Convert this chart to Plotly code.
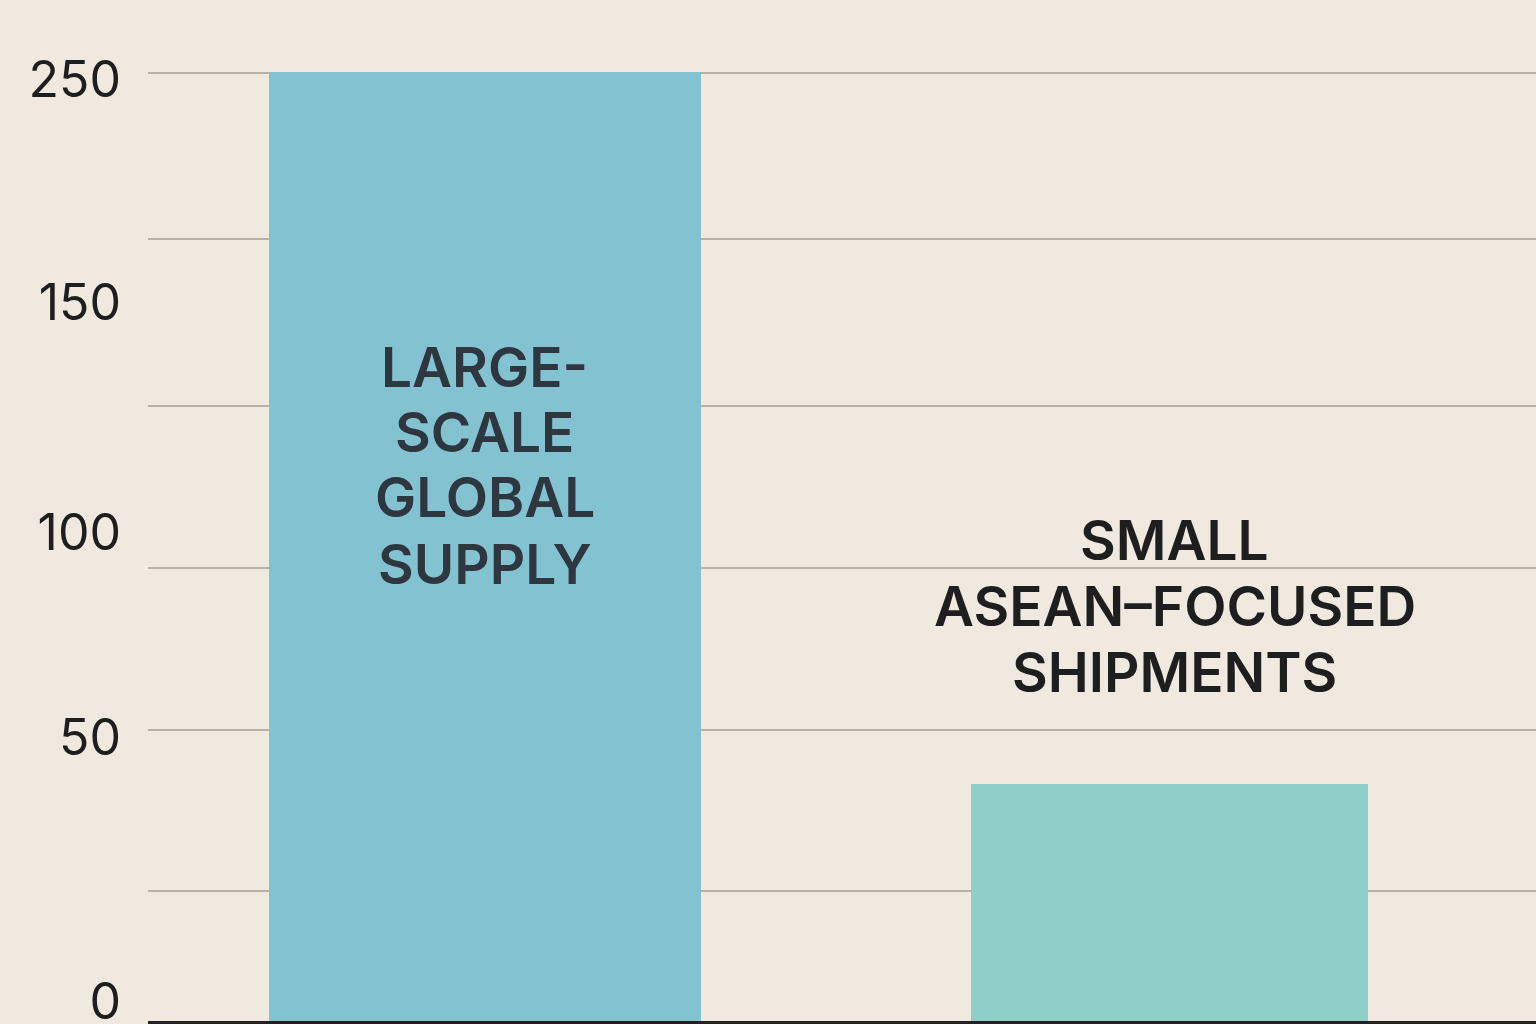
import plotly.graph_objects as go

# ---- data ----
categories = ["Large-scale global supply", "Small ASEAN-focused shipments"]
values = [250, 62.5]
bar_label_lines = [["LARGE-", "SCALE", "GLOBAL", "SUPPLY"],
                   ["SMALL", "ASEAN–FOCUSED", "SHIPMENTS"]]
tick_text = ["250", "150", "100", "50", "0"]
tick_pos = [247.9, 189.4, 128.8, 74.8, 5.2]

# ---- style ----
BG = "#F0E9E0"
bar_colors = ["#83C2D0", "#8FCFC9"]
bar_widths = [0.631, 0.580]
FONT = "Inter"

TOP_PX, BASE_PX = 72, 1021
PX_PER_UNIT = (BASE_PX - TOP_PX) / 250
MARGIN_T = 64
RANGE_TOP = 250 + (TOP_PX - MARGIN_T) / PX_PER_UNIT


def px_to_val(p):
    return (BASE_PX - p) / PX_PER_UNIT


grid_px = [72.5, 239, 406, 568, 730, 891]
grid_vals = [px_to_val(p) for p in grid_px]

x_idx = list(range(len(categories)))

fig = go.Figure()
fig.add_trace(go.Bar(
    x=x_idx, y=values, width=bar_widths,
    marker=dict(color=bar_colors, line=dict(width=0)),
    hovertext=categories, showlegend=False,
))
fig.add_trace(go.Scatter(x=[0], y=[0], yaxis="y2", mode="markers",
                         marker=dict(opacity=0), showlegend=False, hoverinfo="skip"))

# bar labels, one annotation per line
line_px = [[367, 432, 497, 564], [540, 606, 672]]
label_x = [0, 1 + (1175 - 1169.5) / 684.5]
label_colors = ["#2E3740", "#1E1E1E"]
for i, lines in enumerate(bar_label_lines):
    for j, t in enumerate(lines):
        fig.add_annotation(
            x=label_x[i], y=px_to_val(line_px[i][j]), xref="x", yref="y",
            text=t, showarrow=False,
            font=dict(family=FONT, size=55, color=label_colors[i], weight=600),
            xanchor="center", yanchor="middle",
        )

fig.update_layout(
    width=1536, height=1024,
    paper_bgcolor=BG, plot_bgcolor=BG,
    margin=dict(l=148, r=0, t=MARGIN_T, b=1024 - BASE_PX, autoexpand=False),
    bargap=0,
    xaxis=dict(range=[-0.4923, 1.5355], showgrid=False, zeroline=False, automargin=False,
               showticklabels=False, showline=True, linecolor="#222222", linewidth=3),
    yaxis=dict(range=[0, RANGE_TOP], tickvals=grid_vals, showticklabels=False,
               showgrid=True, gridcolor="#B9B0A6", gridwidth=2, zeroline=False,
               automargin=False, fixedrange=True),
    yaxis2=dict(range=[0, RANGE_TOP], overlaying="y", side="left", anchor="x",
                tickvals=tick_pos, ticktext=tick_text, showgrid=False, zeroline=False,
                ticks="outside", ticklen=16, tickcolor="rgba(0,0,0,0)",
                ticklabeloverflow="allow", automargin=False,
                tickfont=dict(family=FONT, size=50, color="#1E1E1E")),
    font=dict(family=FONT),
)

fig.write_html(
    "out.html",
    config={"displayModeBar": False},
    post_script="document.body.style.margin='0';document.body.style.background='#F0E9E0';"
                "document.body.style.overflow='hidden';",
)
